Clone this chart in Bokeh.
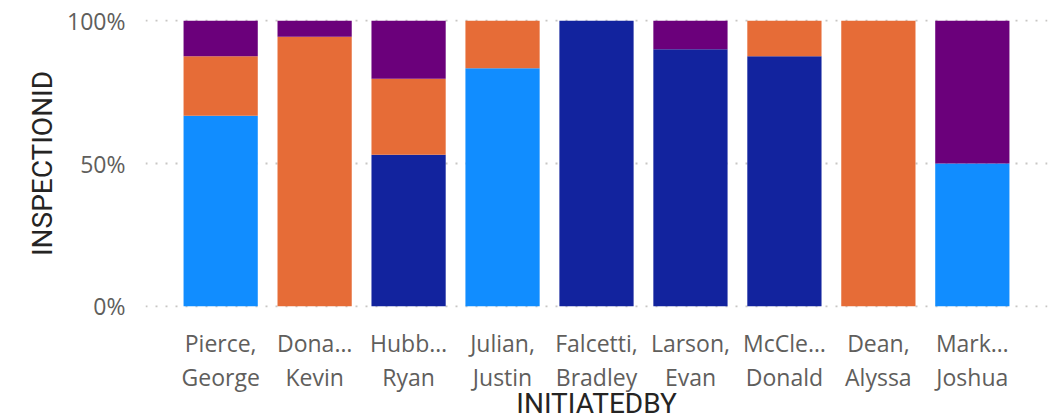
from bokeh.plotting import figure
from bokeh.models import FactorRange, Range1d, NumeralTickFormatter, FixedTicker, Title
from bokeh.embed import file_html
from bokeh.resources import INLINE

# ---- data ----
categories = ["Pierce,\nGeorge", "Dona…\nKevin", "Hubb…\nRyan", "Julian,\nJustin",
              "Falcetti,\nBradley", "Larson,\nEvan", "McCle…\nDonald", "Dean,\nAlyssa",
              "Mark…\nJoshua"]
series_names = ["S1", "S2", "S3", "S4"]
s1_light_blue = [0.667, 0.0, 0.0, 0.833, 0.0, 0.0, 0.0, 0.0, 0.50]
s2_dark_blue = [0.0, 0.0, 0.531, 0.0, 1.0, 0.90, 0.875, 0.0, 0.0]
s3_orange = [0.208, 0.944, 0.266, 0.167, 0.0, 0.0, 0.125, 1.0, 0.0]
s4_purple = [0.125, 0.056, 0.203, 0.0, 0.0, 0.10, 0.0, 0.0, 0.50]
colors = ["#118DFF", "#12239E", "#E66C37", "#6B007B"]
y_ticks = [0, 0.5, 1.0]
x_title = "INITIATEDBY"
y_title = "INSPECTIONID"

data = {"cat": categories, "S1": s1_light_blue, "S2": s2_dark_blue,
        "S3": s3_orange, "S4": s4_purple}

p = figure(width=1053, height=420, output_backend="svg", toolbar_location=None,
           x_range=FactorRange(*categories, range_padding=0.6 / 9),
           y_range=Range1d(-0.004, 1.004),
           min_border_left=145, min_border_right=6, min_border_top=19,
           min_border_bottom=113)
p.outline_line_color = None
p.background_fill_color = "white"
p.border_fill_color = "white"

p.vbar_stack(series_names, x="cat", width=0.79, source=data, color=colors,
             line_color=None)

# axes
p.yaxis.ticker = FixedTicker(ticks=y_ticks)
p.yaxis.formatter = NumeralTickFormatter(format="0%")
for ax in (p.xaxis, p.yaxis):
    ax.axis_line_color = None
    ax.major_tick_line_color = None
    ax.minor_tick_line_color = None
    ax.major_label_text_font = "Open Sans"
    ax.major_label_text_font_size = "23px"
    ax.major_label_text_color = "#605E5C"
    ax.axis_label_text_font = "Roboto"
    ax.axis_label_text_font_size = "28px"
    ax.axis_label_text_font_style = "normal"
    ax.axis_label_text_color = "#252423"

p.yaxis.axis_label = y_title
p.yaxis.major_label_standoff = 14
p.yaxis.axis_label_standoff = 5
p.xaxis.major_label_standoff = 13
p.xaxis.major_label_text_line_height = 1.08

# x axis title as a title in the panel below the axis
p.add_layout(Title(text=x_title, align="center", vertical_align="bottom", standoff=-24,
                   text_font="Roboto", text_font_size="28px",
                   text_font_style="normal", text_color="#252423"), "below")

p.xgrid.grid_line_color = None
p.ygrid.grid_line_color = "#C8C6C4"
p.ygrid.grid_line_width = 2
p.ygrid.grid_line_dash = "2 8"
p.ygrid.level = "underlay"

open("out.html", "w").write(file_html(p, INLINE))
